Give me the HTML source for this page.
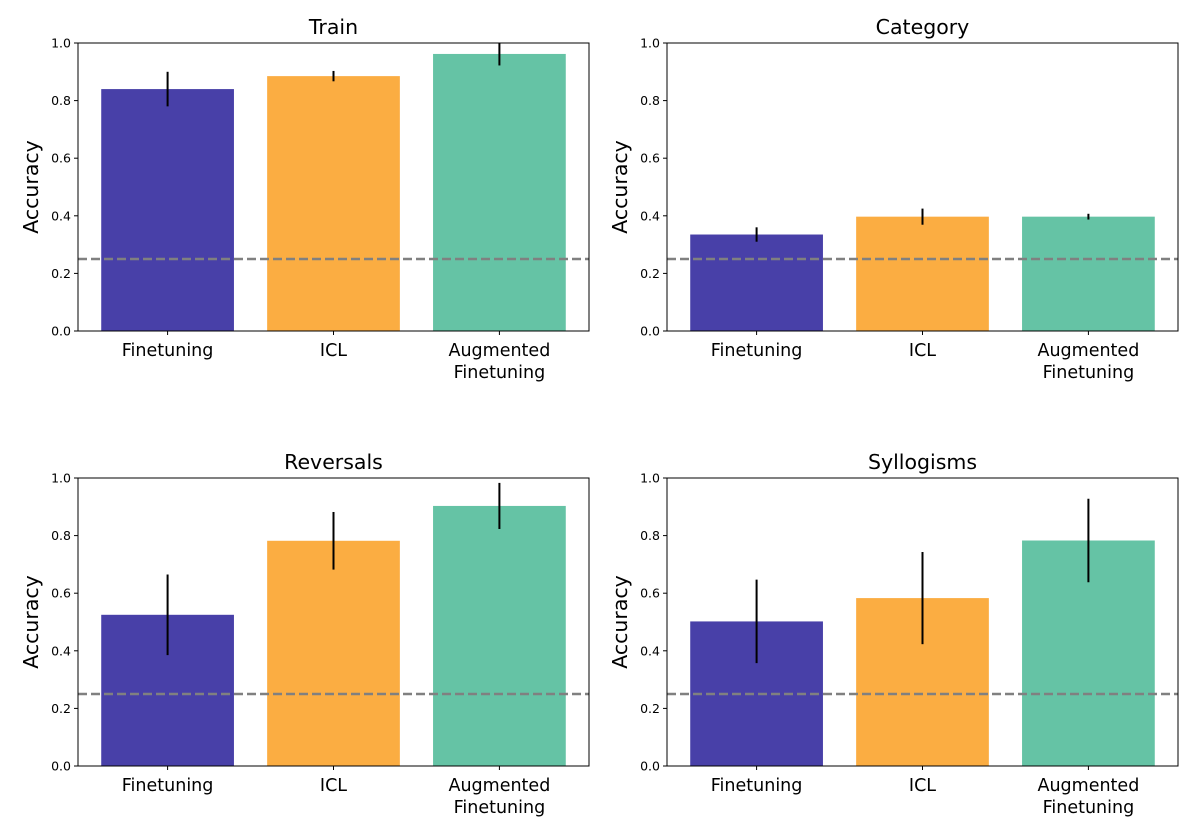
<!DOCTYPE html>
<html><head><meta charset="utf-8"><style>
body{margin:0;background:#fff;width:1196px;height:828px;overflow:hidden}
svg{font-family:"DejaVu Sans","Liberation Sans",sans-serif}
</style></head><body>
<svg id="fig" width="1196" height="828"></svg>
<script>
const categories=["Finetuning","ICL","Augmented\nFinetuning"];
const panelTitles=["Train","Category","Reversals","Syllogisms"];
const trainVals=[0.84,0.885,0.962];
const trainErr=[0.06,0.018,0.04];
const categoryVals=[0.335,0.397,0.397];
const categoryErr=[0.025,0.028,0.01];
const reversalsVals=[0.525,0.782,0.903];
const reversalsErr=[0.14,0.1,0.08];
const syllogismsVals=[0.502,0.583,0.783];
const syllogismsErr=[0.145,0.16,0.145];
const yTicks=[0,0.2,0.4,0.6,0.8,1.0];
const chanceLevel=0.25;
const colors=["#4840a8","#fbad42","#65c3a5"];
const NS="http://www.w3.org/2000/svg";
const svg=document.getElementById('fig');
function el(tag,attrs,parent){const e=document.createElementNS(NS,tag);for(const k in attrs)e.setAttribute(k,attrs[k]);(parent||svg).appendChild(e);return e;}
const panels=[
 {vals:trainVals,err:trainErr,left:78,right:589,top:43,bottom:331},
 {vals:categoryVals,err:categoryErr,left:667,right:1178,top:43,bottom:331},
 {vals:reversalsVals,err:reversalsErr,left:78,right:589,top:478,bottom:766},
 {vals:syllogismsVals,err:syllogismsErr,left:667,right:1178,top:478,bottom:766}
];
panels.forEach((p,pi)=>{
 const g=el('g',{});
 
 
 const xs=i=>p.left+(i+0.54)/3.08*(p.right-p.left);
 const bw=0.8/3.08*(p.right-p.left);
 const ys=v=>p.bottom-v*(p.bottom-p.top);
 p.vals.forEach((v,i)=>{
  const r=el('rect',{x:xs(i)-bw/2,y:ys(v),width:bw,height:ys(0)-ys(v),fill:colors[i]},g);
  
  
 });
 const dl=el('line',{x1:p.left,x2:p.right,y1:ys(chanceLevel),y2:ys(chanceLevel),stroke:'#808080','stroke-width':2.5,'stroke-dasharray':'9,4'},g);
 
 
 p.vals.forEach((v,i)=>{
  const e=el('line',{x1:xs(i),x2:xs(i),y1:ys(Math.min(1.0,v+p.err[i])),y2:ys(v-p.err[i]),stroke:'#000','stroke-width':2},g);
  
  
 });
 el('rect',{x:p.left,y:p.top,width:p.right-p.left,height:p.bottom-p.top,fill:'none',stroke:'#000','stroke-width':1},g);
 yTicks.forEach(t=>{
  el('line',{x1:p.left-4,x2:p.left,y1:ys(t),y2:ys(t),stroke:'#000'},g);
  const tx=el('text',{x:p.left-7,y:ys(t)+4.5,'text-anchor':'end','font-size':12.5},g);
  tx.textContent=t.toFixed(1);
  
  
 });
 categories.forEach((c,i)=>{
  el('line',{x1:xs(i),x2:xs(i),y1:p.bottom,y2:p.bottom+4,stroke:'#000'},g);
  c.split('\n').forEach((ln,j)=>{
   const tx=el('text',{x:xs(i),y:p.bottom+25+j*22,'text-anchor':'middle','font-size':17.5},g);
   tx.textContent=ln;
   
   
  });
 });
 const tt=el('text',{x:(p.left+p.right)/2,y:p.top-9,'text-anchor':'middle','font-size':20.5},g);
 tt.textContent=panelTitles[pi];
 
 
 const yl=el('text',{x:0,y:0,'text-anchor':'middle','font-size':20.5,transform:`translate(${p.left-40},${(p.top+p.bottom)/2}) rotate(-90)`},g);
 yl.textContent='Accuracy';
 
 
});
</script>
</body></html>
